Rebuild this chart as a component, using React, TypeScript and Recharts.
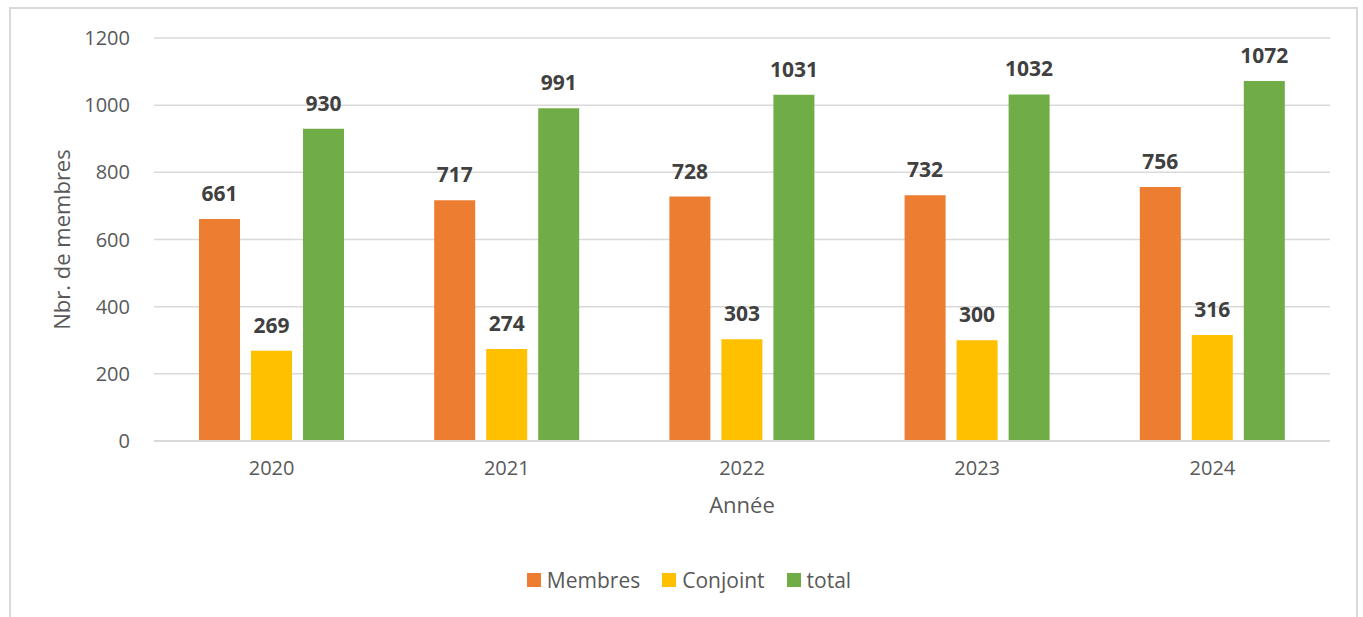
import React from "react";
import { BarChart, Bar, XAxis, YAxis, CartesianGrid, Legend, LabelList } from "recharts";

const years = ["2020", "2021", "2022", "2023", "2024"];
const membres = [661, 717, 728, 732, 756];
const conjoint = [269, 274, 303, 300, 316];
const total = [930, 991, 1031, 1032, 1072];
const yTicks = [0, 200, 400, 600, 800, 1000, 1200];

const seriesKeys = ["Membres", "Conjoint", "total"];
const seriesColors = ["#ED7D31", "#FFC000", "#70AD47"];

const data = years.map((year, i) => ({
  year,
  Membres: membres[i],
  Conjoint: conjoint[i],
  total: total[i],
}));

const FONT = "'Open Sans', sans-serif";
const TEXT = "#595959";
const GRID = "#d9d9d9";

function LegendBox() {
  return (
    <div style={{ display: "flex", justifyContent: "center", alignItems: "center", gap: 22, height: 30, paddingLeft: 48 }}>
      {seriesKeys.map((k, i) => (
        <div key={k} style={{ display: "flex", alignItems: "center" }}>
          <span style={{ width: 14, height: 14, background: seriesColors[i], marginRight: 6, display: "inline-block" }} />
          <span style={{ color: TEXT, fontSize: 21, fontFamily: FONT }}>{k}</span>
        </div>
      ))}
    </div>
  );
}

export default function App() {
  return (
    <div style={{ position: "absolute", left: 0, top: 0, width: 1363, height: 617, background: "#fff", overflow: "hidden", fontFamily: FONT }}>
      <div
        style={{
          position: "absolute",
          left: 9,
          top: 7,
          width: 1349,
          height: 640,
          border: `2px solid ${GRID}`,
          boxSizing: "border-box",
        }}
      />
      <div style={{ position: "absolute", left: 0, top: 0 }}>
        <BarChart
          width={1363}
          height={617}
          data={data}
          margin={{ top: 38, right: 33, left: 0, bottom: 22 }}
          barCategoryGap={45}
          barGap={11}
        >
          <CartesianGrid vertical={false} stroke={GRID} strokeWidth={1.5} />
          <XAxis
            dataKey="year"
            height={124}
            axisLine={{ stroke: GRID, strokeWidth: 2 }}
            tickLine={false}
            tickSize={0}
            tickMargin={20}
            tick={{ fill: TEXT, fontSize: 20, fontFamily: FONT }}
            label={{ value: "Année", position: "insideTop", offset: 56, fill: TEXT, fontSize: 22, fontFamily: FONT }}
          />
          <YAxis
            width={154}
            domain={[0, 1200]}
            ticks={yTicks}
            axisLine={false}
            tickLine={false}
            tickSize={0}
            tickMargin={24}
            tick={{ fill: TEXT, fontSize: 20, fontFamily: FONT }}
            label={{ value: "Nbr. de membres", angle: -90, position: "insideLeft", offset: 62, fill: TEXT, fontSize: 22, fontFamily: FONT, style: { textAnchor: "middle" } }}
          />
          <Legend verticalAlign="bottom" height={30} content={() => <LegendBox />} />
          {seriesKeys.map((k, i) => (
            <Bar key={k} dataKey={k} fill={seriesColors[i]} isAnimationActive={false}>
              <LabelList dataKey={k} position="top" offset={18} fill="#404040" fontSize={21} fontWeight="bold" fontFamily={FONT} />
            </Bar>
          ))}
        </BarChart>
      </div>
    </div>
  );
}
